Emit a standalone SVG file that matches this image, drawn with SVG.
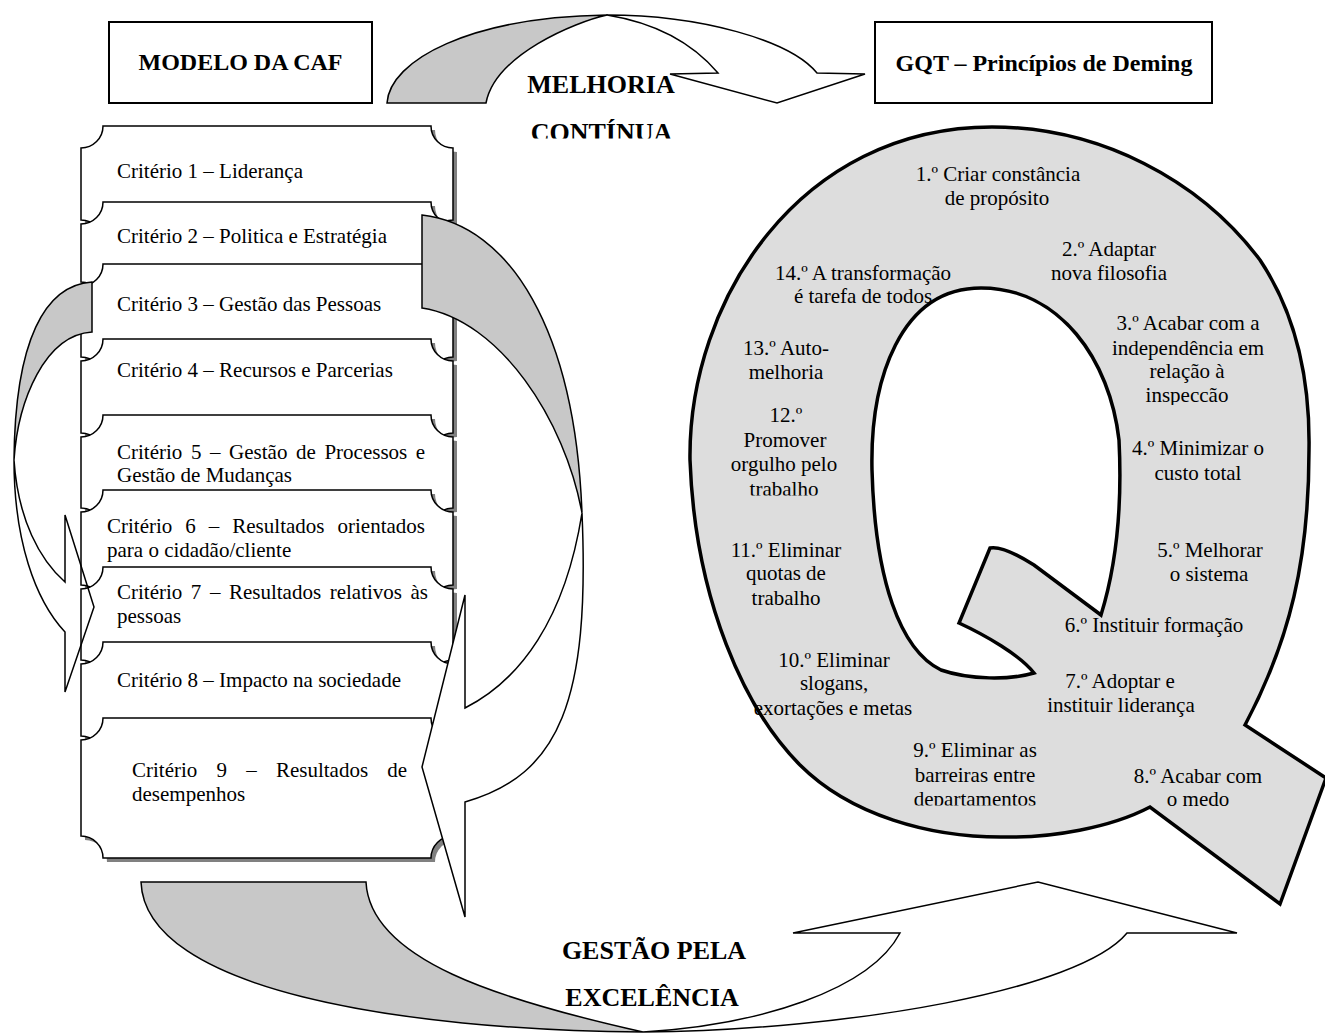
<svg xmlns="http://www.w3.org/2000/svg" xmlns:xlink="http://www.w3.org/1999/xlink" width="1325" height="1034" viewBox="0 0 1325 1034">
<style>
.box{fill:#fff;stroke:#000;stroke-width:1.5}
.shadow{fill:#808080;stroke:none}
.t{font-family:"Liberation Serif","Times New Roman",serif;font-size:21px;fill:#000}
.q{font-family:"Liberation Serif","Times New Roman",serif;font-size:21px;fill:#000;text-anchor:middle}
.head{font-family:"Liberation Serif","Times New Roman",serif;font-size:24px;font-weight:bold;fill:#000;text-anchor:middle}
.big{font-family:"Liberation Serif","Times New Roman",serif;font-size:26px;font-weight:bold;fill:#000;text-anchor:middle}
.gray{fill:#c8c8c8;stroke:#000;stroke-width:1.5;stroke-linejoin:miter}
.wht{fill:#fff;stroke:#000;stroke-width:1.5}
.clear{fill:none;stroke:#000;stroke-width:1.5}
.hbox{fill:#fff;stroke:#000;stroke-width:2}
</style>
<defs>
<path id="p1" d="M103,126 H431 A22,22 0 0 0 453,148 V220 A22,22 0 0 0 431,242 H103 A22,22 0 0 0 81,220 V148 A22,22 0 0 0 103,126 Z"/>
<path id="p2" d="M103,202 H431 A22,22 0 0 0 453,224 V282 A22,22 0 0 0 431,304 H103 A22,22 0 0 0 81,282 V224 A22,22 0 0 0 103,202 Z"/>
<path id="p3" d="M103,264 H431 A22,22 0 0 0 453,286 V357 A22,22 0 0 0 431,379 H103 A22,22 0 0 0 81,357 V286 A22,22 0 0 0 103,264 Z"/>
<path id="p4" d="M103,339 H431 A22,22 0 0 0 453,361 V433 A22,22 0 0 0 431,455 H103 A22,22 0 0 0 81,433 V361 A22,22 0 0 0 103,339 Z"/>
<path id="p5" d="M103,415 H431 A22,22 0 0 0 453,437 V508 A22,22 0 0 0 431,530 H103 A22,22 0 0 0 81,508 V437 A22,22 0 0 0 103,415 Z"/>
<path id="p6" d="M103,490 H431 A22,22 0 0 0 453,512 V585 A22,22 0 0 0 431,607 H103 A22,22 0 0 0 81,585 V512 A22,22 0 0 0 103,490 Z"/>
<path id="p7" d="M103,567 H431 A22,22 0 0 0 453,589 V660 A22,22 0 0 0 431,682 H103 A22,22 0 0 0 81,660 V589 A22,22 0 0 0 103,567 Z"/>
<path id="p8" d="M103,642 H431 A22,22 0 0 0 453,664 V736 A22,22 0 0 0 431,758 H103 A22,22 0 0 0 81,736 V664 A22,22 0 0 0 103,642 Z"/>
<path id="p9" d="M103,718 H431 A22,22 0 0 0 453,740 V836 A22,22 0 0 0 431,858 H103 A22,22 0 0 0 81,836 V740 A22,22 0 0 0 103,718 Z"/>
<clipPath id="cCont"><rect x="480" y="100" width="250" height="38.5"/></clipPath>
<clipPath id="cInsp"><rect x="1100" y="382" width="200" height="23"/></clipPath>
<clipPath id="cTrab"><rect x="700" y="476" width="180" height="19.5"/></clipPath>
<clipPath id="cDep"><rect x="880" y="786" width="200" height="19.5"/></clipPath>
</defs>
<rect width="1325" height="1034" fill="#fff"/>

<g id="criterio-1"><use xlink:href="#p1" class="shadow" x="4" y="4"/><use xlink:href="#p1" class="box"/>
<text class="t" x="117" y="178">Critério 1 – Liderança</text></g>
<g id="criterio-2"><use xlink:href="#p2" class="shadow" x="4" y="4"/><use xlink:href="#p2" class="box"/>
<text class="t" x="117" y="243">Critério 2 – Politica e Estratégia</text></g>
<g id="criterio-3"><use xlink:href="#p3" class="shadow" x="4" y="4"/><use xlink:href="#p3" class="box"/>
<text class="t" x="117" y="311">Critério 3 – Gestão das Pessoas</text></g>
<g id="criterio-4"><use xlink:href="#p4" class="shadow" x="4" y="4"/><use xlink:href="#p4" class="box"/>
<text class="t" x="117" y="377">Critério 4 – Recursos e Parcerias</text></g>
<g id="criterio-5"><use xlink:href="#p5" class="shadow" x="4" y="4"/><use xlink:href="#p5" class="box"/>
<text class="t" y="459"><tspan x="117">Critério</tspan><tspan x="190.9">5</tspan><tspan x="210">–</tspan><tspan x="229.1">Gestão</tspan><tspan x="296">de</tspan><tspan x="324.4">Processos</tspan><tspan x="415.8">e</tspan></text>
<text class="t" x="117" y="482">Gestão de Mudanças</text></g>
<g id="criterio-6"><use xlink:href="#p6" class="shadow" x="4" y="4"/><use xlink:href="#p6" class="box"/>
<text class="t" y="533"><tspan x="107">Critério</tspan><tspan x="185.3">6</tspan><tspan x="208.8">–</tspan><tspan x="232.3">Resultados</tspan><tspan x="337.5">orientados</tspan></text>
<text class="t" x="107" y="557">para o cidadão/cliente</text></g>
<g id="criterio-7"><use xlink:href="#p7" class="shadow" x="4" y="4"/><use xlink:href="#p7" class="box"/>
<text class="t" y="599"><tspan x="117">Critério</tspan><tspan x="190.8">7</tspan><tspan x="209.9">–</tspan><tspan x="228.9">Resultados</tspan><tspan x="329.7">relativos</tspan><tspan x="410.5">às</tspan></text>
<text class="t" x="117" y="623">pessoas</text></g>
<g id="criterio-8"><use xlink:href="#p8" class="shadow" x="4" y="4"/><use xlink:href="#p8" class="box"/>
<text class="t" x="117" y="687">Critério 8 – Impacto na sociedade</text></g>
<g id="criterio-9"><use xlink:href="#p9" class="shadow" x="4" y="4"/><use xlink:href="#p9" class="box"/>
<text class="t" y="777"><tspan x="132">Critério</tspan><tspan x="216.5">9</tspan><tspan x="246.2">–</tspan><tspan x="275.9">Resultados</tspan><tspan x="387.3">de</tspan></text>
<text class="t" x="132" y="801">desempenhos</text></g>

<g id="deming-q">
<path fill="#dddddd" stroke="#000" stroke-width="3.5" fill-rule="evenodd" stroke-linejoin="miter" d="M992,127 C1100,127 1200,180 1260,260 C1300,320 1310,390 1309,450 C1309,560 1290,640 1245,725 L1326,778 L1280,904 L1150,807 C1110,828 1050,838 1006,837 C930,838 850,815 800,765 C745,710 695,600 690,460 C688,300 800,127 992,127 Z M981,288 C1060,288 1110,360 1119,440 C1122,500 1118,560 1101,615 L1034,565 C1015,553 1000,546 990,548 L959,623 C985,635 1020,655 1034,673 C1010,680 970,680 941,670 C900,650 875,580 872,470 C870,380 900,288 981,288 Z"/>
<text class="q" x="998" y="181">1.º Criar constância</text>
<text class="q" x="997" y="205">de propósito</text>
<text class="q" x="1109" y="256">2.º Adaptar</text>
<text class="q" x="1109" y="280">nova filosofia</text>
<text class="q" x="863" y="280">14.º A transformação</text>
<text class="q" x="863" y="303">é tarefa de todos</text>
<text class="q" x="1188" y="330">3.º Acabar com a</text>
<text class="q" x="1188" y="355">independência em</text>
<text class="q" x="1187" y="378">relação à</text>
<text class="q" x="1187" y="402" clip-path="url(#cInsp)">inspeccão</text>
<text class="q" x="786" y="355">13.º Auto-</text>
<text class="q" x="786" y="379">melhoria</text>
<text class="q" x="786" y="422">12.º</text>
<text class="q" x="785" y="447">Promover</text>
<text class="q" x="784" y="471">orgulho pelo</text>
<text class="q" x="784" y="496" clip-path="url(#cTrab)">trabalho</text>
<text class="q" x="1198" y="455">4.º Minimizar o</text>
<text class="q" x="1198" y="480">custo total</text>
<text class="q" x="786" y="557">11.º Eliminar</text>
<text class="q" x="786" y="580">quotas de</text>
<text class="q" x="786" y="605">trabalho</text>
<text class="q" x="1210" y="557">5.º Melhorar</text>
<text class="q" x="1209" y="581">o sistema</text>
<text class="q" x="1154" y="632">6.º Instituir formação</text>
<text class="q" x="834" y="667">10.º Eliminar</text>
<text class="q" x="834" y="690">slogans,</text>
<text class="q" x="833" y="715">exortações e metas</text>
<text class="q" x="1120" y="688">7.º Adoptar e</text>
<text class="q" x="1121" y="712">instituir liderança</text>
<text class="q" x="975" y="757">9.º Eliminar as</text>
<text class="q" x="975" y="782">barreiras entre</text>
<text class="q" x="975" y="806" clip-path="url(#cDep)">departamentos</text>
<text class="q" x="1198" y="783">8.º Acabar com</text>
<text class="q" x="1198" y="806">o medo</text>
</g>

<g id="connectors">
<g id="arrow-melhoria">
<path class="gray" d="M387,103 C390,60 470,17 607,15 C575,22 495,55 486,103 Z"/>
<path class="wht" d="M607,15 C700,15 790,40 817,73 L865,74 L777,103 L670,74 L718,73 C690,40 650,22 607,15 Z"/>
</g>
<g id="arrow-left-loop">
<path class="gray" d="M92,282 C45,285 15,340 14,460 C18,400 45,335 92,332 Z"/>
<path class="clear" d="M14,460 C14,540 35,600 65,632 L65,692 L94,607 L65,515 L65,582 C40,560 18,520 14,460 Z"/>
</g>
<g id="arrow-right-loop">
<path class="gray" d="M422,215 C510,225 575,330 582,513 C565,420 500,320 422,308 Z"/>
<path class="wht" d="M582,513 C590,700 560,775 465,802 L465,917 L422,767 L465,595 L465,708 C520,680 565,620 582,513 Z"/>
</g>
<g id="arrow-excelencia">
<path class="gray" d="M141,882 L366,882 C370,960 500,1000 643,1032 C400,1030 145,990 141,882 Z"/>
<path class="wht" d="M643,1032 C850,1030 1080,990 1127,933 L1237,933 L1038,882 L793,933 L900,933 C870,990 760,1025 643,1032 Z"/>
</g>
</g>

<g id="header-caf">
<rect class="hbox" x="109" y="22" width="263" height="81"/>
<text class="head" x="240.5" y="70">MODELO DA CAF</text>
</g>
<g id="header-gqt">
<rect class="hbox" x="875" y="22" width="337" height="81"/>
<text class="head" x="1044" y="71">GQT – Princípios de Deming</text>
</g>
<g id="label-melhoria">
<text class="big" x="601" y="93">MELHORIA</text>
<text class="big" x="601.5" y="141" clip-path="url(#cCont)">CONTÍNUA</text>
</g>
<g id="label-excelencia">
<text class="big" x="654" y="959">GESTÃO PELA</text>
<text class="big" x="652" y="1006">EXCELÊNCIA</text>
</g>
</svg>
